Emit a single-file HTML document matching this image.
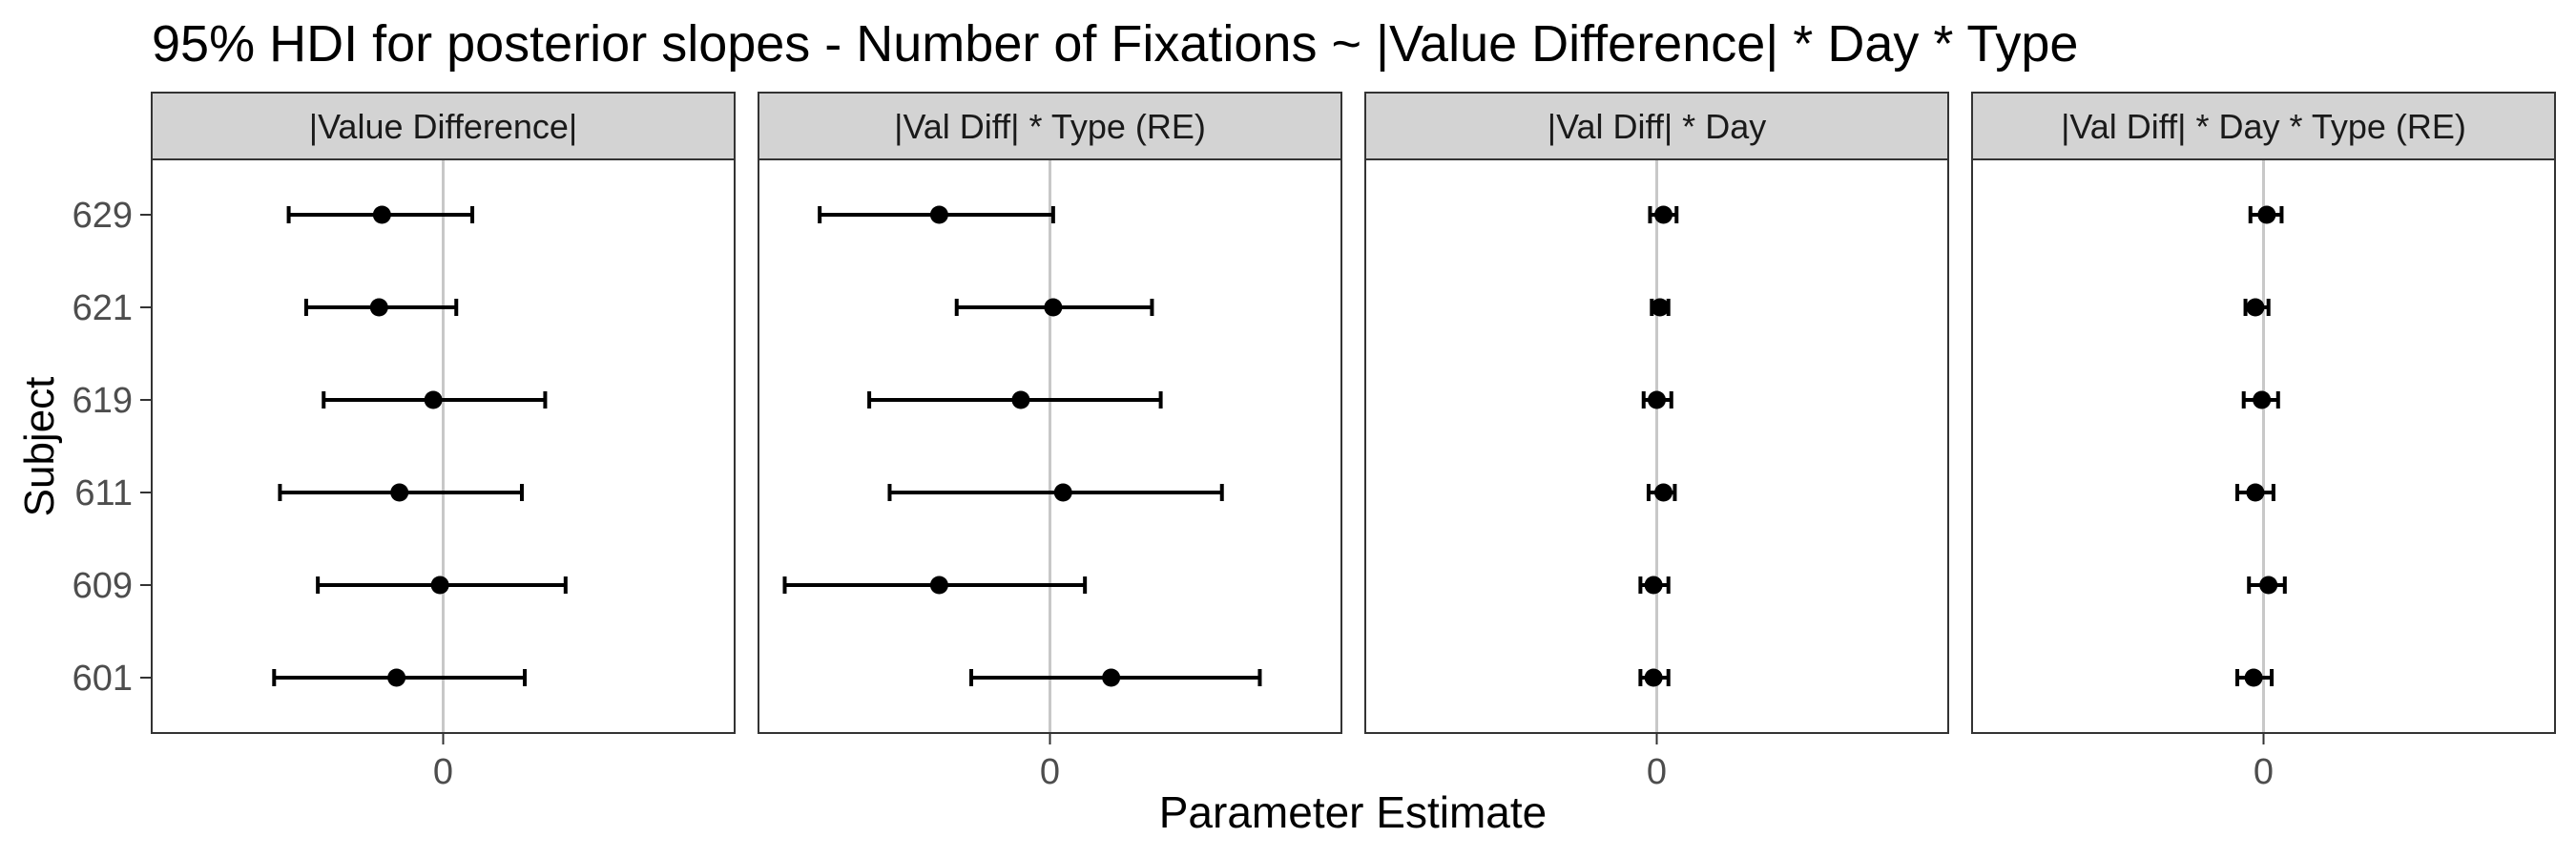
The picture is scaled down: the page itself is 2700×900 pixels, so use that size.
<!DOCTYPE html>
<html><head><meta charset="utf-8"><style>
html,body{margin:0;padding:0;background:#fff;}
svg{display:block;font-family:"Liberation Sans",Arial,sans-serif;}
</style></head><body>
<svg id="chart" width="2700" height="900" viewBox="0 0 2700 900" xmlns="http://www.w3.org/2000/svg">
<text x="159" y="64" font-size="54" fill="#000">95% HDI for posterior slopes - Number of Fixations ~ |Value Difference| * Day * Type</text>
<text x="1418" y="867" font-size="46" fill="#000" text-anchor="middle">Parameter Estimate</text>
<text transform="translate(56,468) rotate(-90)" font-size="44" fill="#000" text-anchor="middle">Subject</text>
<g id="plots"></g>
</svg>
<script>
const subjects = ["629","621","619","611","609","601"];
const panelTitles = ["|Value Difference|","|Val Diff| * Type (RE)","|Val Diff| * Day","|Val Diff| * Day * Type (RE)"];
const lo1 = [-0.53,-0.47,-0.41,-0.56,-0.43,-0.58];
const est1 = [-0.21,-0.22,-0.034,-0.15,-0.011,-0.16];
const hi1 = [0.10,0.045,0.35,0.27,0.42,0.28];
const lo2 = [-0.79,-0.32,-0.62,-0.55,-0.91,-0.27];
const est2 = [-0.38,0.011,-0.10,0.045,-0.38,0.21];
const hi2 = [0.011,0.35,0.38,0.59,0.12,0.72];
const lo3 = [-0.023,-0.017,-0.045,-0.028,-0.056,-0.056];
const est3 = [0.023,0.011,0,0.023,-0.011,-0.011];
const hi3 = [0.068,0.04,0.05,0.062,0.04,0.04];
const lo4 = [-0.045,-0.062,-0.068,-0.09,-0.05,-0.09];
const est4 = [0.011,-0.028,-0.006,-0.028,0.017,-0.034];
const hi4 = [0.062,0.017,0.05,0.034,0.073,0.028];
const xTicks = [0];

const series = [[lo1,est1,hi1],[lo2,est2,hi2],[lo3,est3,hi3],[lo4,est4,hi4]];
const NS = "http://www.w3.org/2000/svg";
const plotsG = document.getElementById("plots");
function mk(tag, attrs, parent){
  const e = document.createElementNS(NS, tag);
  for (const k in attrs) e.setAttribute(k, attrs[k]);
  (parent||plotsG).appendChild(e);
  return e;
}
const panelLeft = [159,795,1431,2067];
const panelW = 611, plotTop = 167, plotBottom = 768, stripTop = 97;
const yFirst = 225, yStep = 97;
function yPos(i){ return yFirst + i*yStep; }

panelTitles.forEach((t, p) => {
  const L = panelLeft[p];
  const xs = v => L + panelW/2 + v*(panelW/2);
  const pg = mk("g", {});
  
  
  const strip = mk("rect", {x:L, y:stripTop, width:panelW, height:plotTop-stripTop, fill:"#d3d3d3", stroke:"#333", "stroke-width":2}, pg);
  
  
  const st = mk("text", {x:L+panelW/2, y:145, "font-size":36, "text-anchor":"middle", fill:"#1a1a1a"}, pg);
  st.textContent = t;
  
  
  const bg = mk("rect", {x:L, y:plotTop, width:panelW, height:plotBottom-plotTop, fill:"#fff"}, pg);
  
  
  xTicks.forEach(v => {
    const zl = mk("line", {x1:xs(v), x2:xs(v), y1:plotTop, y2:plotBottom, stroke:"#c8c8c8", "stroke-width":3}, pg);
    
    
    const tk = mk("line", {x1:xs(v), x2:xs(v), y1:plotBottom, y2:780, stroke:"#333", "stroke-width":2}, pg);
    
    
    const tl = mk("text", {x:xs(v), y:821, "font-size":38, "text-anchor":"middle", fill:"#4d4d4d"}, pg);
    tl.textContent = String(v);
    
    
  });
  const [lo, est, hi] = series[p];
  subjects.forEach((s, i) => {
    const y = yPos(i);
    const eb = mk("path", {d:`M${xs(lo[i])},${y}H${xs(hi[i])}M${xs(lo[i])},${y-9}V${y+9}M${xs(hi[i])},${y-9}V${y+9}`, stroke:"#000", "stroke-width":4, fill:"none"}, pg);
    
    
    const pt = mk("circle", {cx:xs(est[i]), cy:y, r:9.5, fill:"#000"}, pg);
    
    
  });
  const border = mk("rect", {x:L, y:plotTop, width:panelW, height:plotBottom-plotTop, fill:"none", stroke:"#333", "stroke-width":2}, pg);
  
  
});
subjects.forEach((s, i) => {
  const y = yPos(i);
  const tk = mk("line", {x1:147, x2:159, y1:y, y2:y, stroke:"#333", "stroke-width":2});
  
  
  const tl = mk("text", {x:139, y:y+13, "font-size":38, "text-anchor":"end", fill:"#4d4d4d"});
  tl.textContent = s;
  
  
});
</script>
</body></html>
